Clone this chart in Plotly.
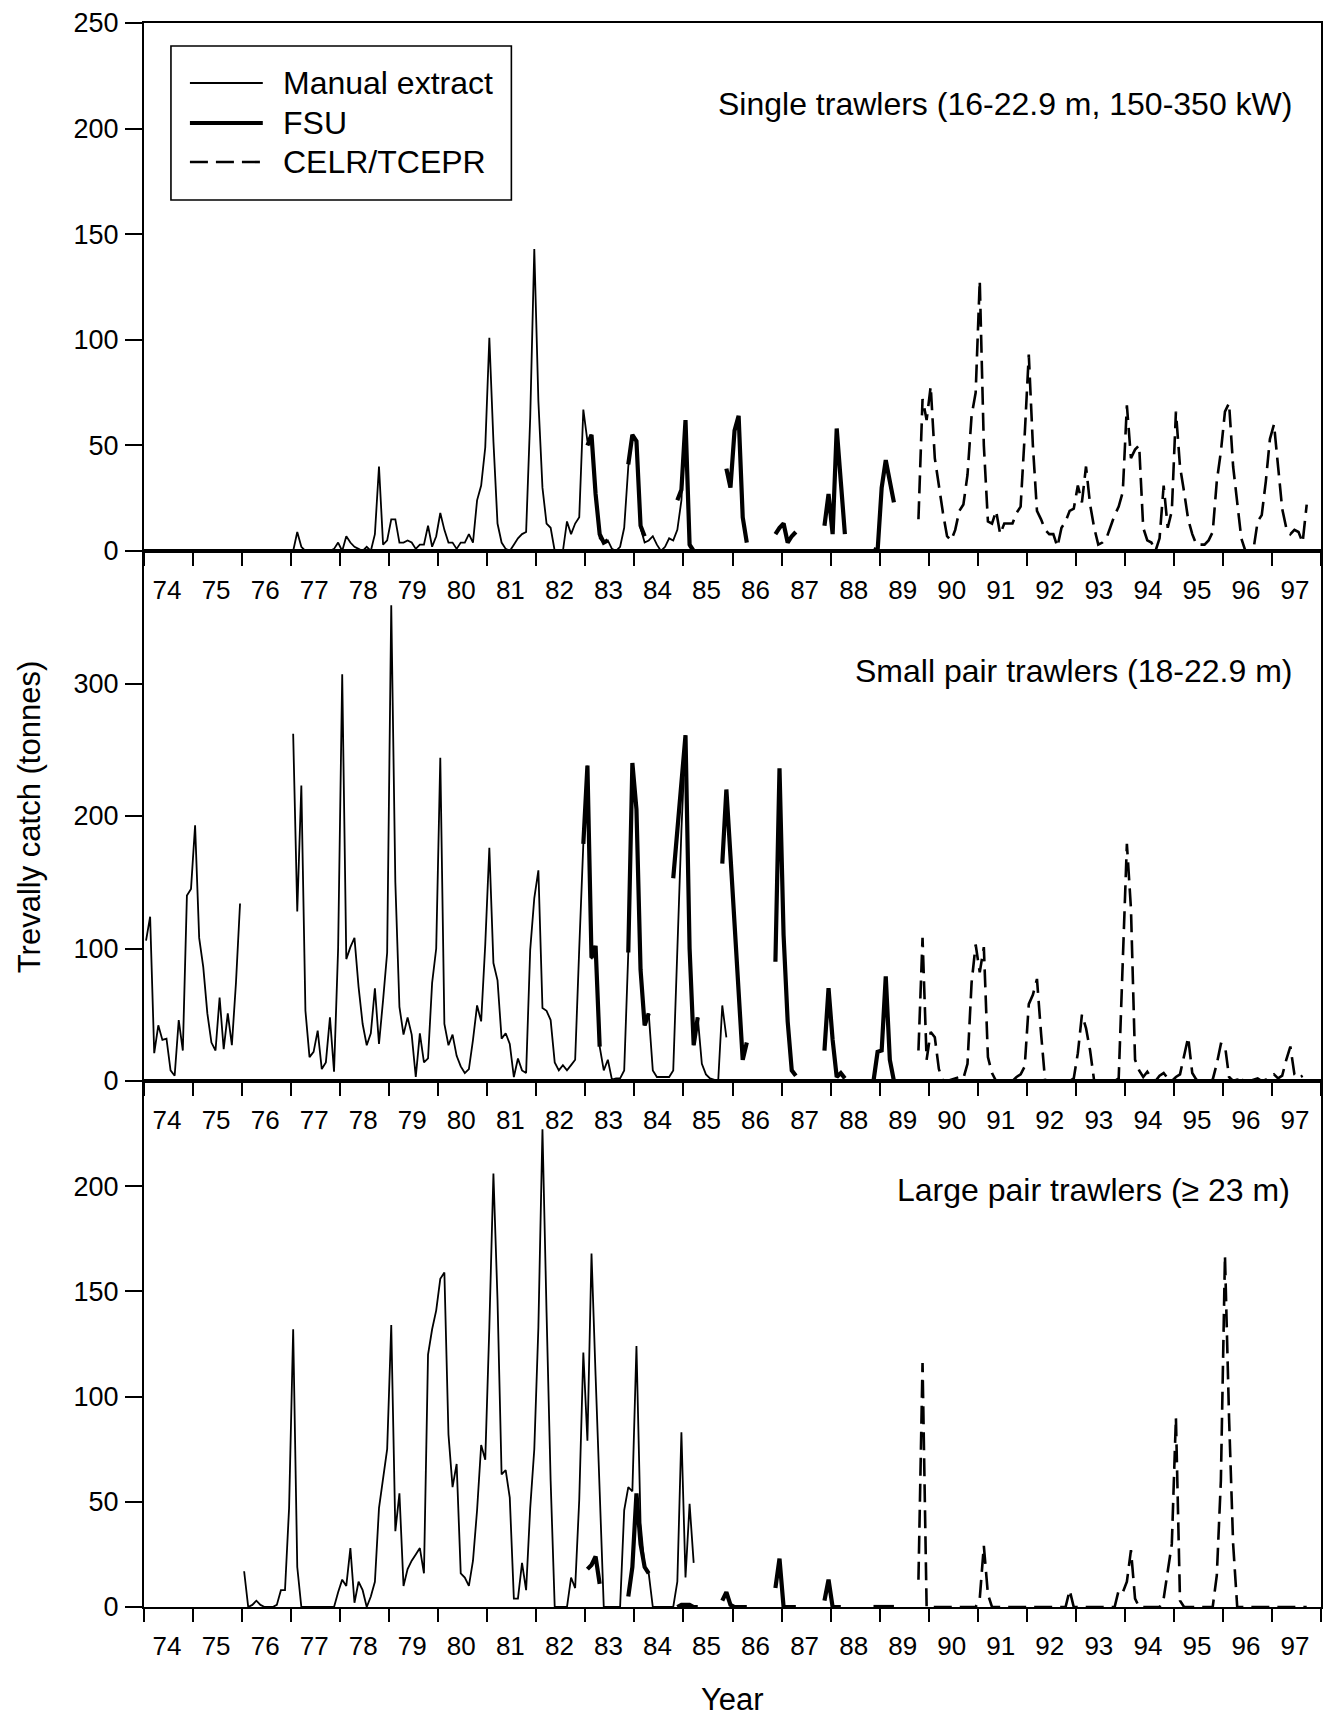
import plotly.graph_objects as go

# ---------------- data (monthly catches, tonnes; month index k: 0 = Jan 1974) ----------------
YEAR_START = 74
YEAR_LABELS = [str(y) for y in range(74, 98)]

# Single trawlers
TOP_MANUAL_START = 0
TOP_MANUAL = [0, 0, 0, 0, 0, 0, 0, 0, 0, 0, 0, 0,
              0, 0, 0, 0, 0, 0, 0, 0, 0, 0, 0, 0,
              0, 0, 0, 0, 0, 0, 0, 0, 0, 0, 0, 0,
              0, 9, 2, 0, 0, 0, 0, 0, 0, 0, 1, 4,
              0, 7, 4, 2, 1, 0, 2, 0, 8, 40, 3, 5,
              15, 15, 4, 4, 5, 4, 1, 3, 3, 12, 2, 7,
              18, 10, 4, 4, 1, 4, 4, 8, 4, 24, 31, 49,
              101, 52, 13, 4, 1, 0, 3, 6, 8, 9, 63, 143,
              71, 30, 13, 11, 0, 0, 0, 14, 8, 13, 16, 67,
              52, 55, 27, 6, 4, 5, 1, 0, 2, 11, 40, 55,
              52, 11, 4, 5, 7, 3, 0, 2, 6, 5, 10, 24,
              62, 2, 0, 0, 0]
TOP_FSU = [(108, [50, 55, 27, 8, 4, 5]),
           (118, [41, 55, 52, 12, 7]),
           (130, [24, 29, 62, 3, 0, 0, 0]),
           (142, [39, 30, 57, 64, 16, 4]),
           (154, [8, 11, 13, 4, 7, 9]),
           (166, [12, 27, 8, 58, 33, 8]),
           (178, [1, 0, 30, 43, 33, 23])]
TOP_CELR_START = 189
TOP_CELR = [15, 72, 62, 78, 44, 30, 18, 7, 5, 10,
            19, 22, 36, 64, 75, 128, 50, 14, 13, 19,
            8, 13, 13, 13, 18, 21, 55, 93, 50, 19,
            15, 10, 8, 8, 2, 11, 14, 19, 20, 31,
            23, 40, 22, 11, 3, 4, 6, 12, 17, 21,
            28, 69, 44, 48, 50, 11, 5, 4, 0, 6,
            31, 11, 19, 66, 40, 28, 15, 8, 3, 3,
            3, 5, 9, 33, 47, 66, 70, 40, 22, 6,
            0, 0, 1, 14, 17, 33, 53, 60, 40, 20,
            11, 8, 10, 9, 4, 22]

# Small pair trawlers
MID_MANUAL_START = 0
MID_MANUAL = [106, 124, 21, 42, 31, 32, 8, 4, 46, 23, 140, 145,
              193, 108, 86, 51, 29, 23, 63, 24, 51, 27, 74, 134,
              None, None, None, None, None, None, None, None, None, None, None, None,
              262, 128, 223, 53, 18, 22, 38, 9, 14, 48,
              7, 100, 307, 92, 101, 108, 71, 43, 27, 36,
              70, 28, 61, 97, 359, 150, 56, 35, 48, 35,
              3, 36, 14, 17, 74, 100, 244, 43, 27, 35,
              19, 11, 6, 9, 31, 57, 45, 103, 176, 89,
              76, 32, 36, 28, 3, 17, 8, 6, 99, 138,
              159, 55, 53, 46, 14, 8, 12, 8, 12, 16,
              100, 179, 238, 92, 101, 26, 8, 16, 1, 2,
              2, 8, 97, 240, 205, 84, 42, 51, 8, 3,
              3, 3, 3, 8, 99, 189, 261, 100, 27, 48,
              13, 5, 2, 1, 0, 57, 33]
MID_FSU = [(107, [179, 238, 93, 102, 26]),
           (118, [97, 240, 205, 84, 42, 51]),
           (129, [153, 190, 226, 261, 100, 27, 48]),
           (141, [164, 220, 170, 120, 65, 16, 29]),
           (154, [90, 236, 110, 45, 8, 4]),
           (166, [23, 70, 31, 3, 6, 2]),
           (178, [0, 22, 23, 79, 16, 0])]
MID_CELR_START = 189
MID_CELR = [23, 108, 16, 37, 33, 9, 0, 0, 1, 2,
            3, 2, 13, 74, 103, 82, 101, 18, 6, 0,
            0, 0, 0, 0, 3, 5, 11, 58, 65, 77,
            36, 0, 0, 0, 0, 0, 0, 0, 2, 21,
            50, 40, 23, 0, 0, 0, 0, 0, 0, 2,
            94, 179, 130, 16, 8, 3, 7, 2, 0, 4,
            6, 2, 0, 3, 5, 18, 33, 6, 1, 0,
            2, 0, 1, 13, 28, 27, 3, 0, 1, 0,
            2, 0, 1, 2, 0, 1, 3, 5, 2, 4,
            16, 26, 5, 2, 4]

# Large pair trawlers
BOT_MANUAL_START = 24
BOT_MANUAL = [17, 0, 1, 3, 1, 0, 0, 0, 1, 8, 8, 47, 132, 19, 0,
              0, 0, 0, 0, 0, 0, 0,
              0, 7, 13, 10, 28, 2, 12, 8, 0, 5,
              12, 47, 60, 75, 134, 36, 54, 10, 18, 22,
              25, 28, 16, 120, 132, 141, 156, 159, 82, 57,
              68, 16, 14, 10, 22, 46, 77, 70, 133, 206,
              146, 63, 65, 52, 4, 4, 21, 8, 47, 75,
              133, 227, 140, 60, 0, 0, 0, 0, 14, 9,
              51, 121, 79, 168, 110, 50, 0, 0, 0, 0,
              0, 46, 57, 55, 124, 40, 19, 16, 0, 0,
              0, 0, 0, 0, 12, 83, 14, 49, 21]
BOT_FSU = [(108, [18, 20, 24, 11]),
           (118, [5, 19, 54, 30, 19, 16]),
           (130, [0, 1, 1, 1, 0, 0]),
           (141, [3, 7, 1, 0, 0, 0, 0]),
           (154, [9, 23, 0, 0, 0, 0]),
           (166, [3, 13, 0, 0, 0]),
           (178, [0, 0, 0, 0, 0, 0])]
BOT_CELR_START = 189
BOT_CELR = [13, 116, 0,
            0, 0, 0, 0, 0, 0, 0, 0, 0, 0, 0, 0,
            4, 29, 6, 0,
            0, 0, 0, 0, 0, 0, 0, 0, 0, 0, 0, 0, 0, 0, 0, 0, 0, 0,
            8, 0,
            0, 0, 0, 0, 0, 0, 0, 0, 0, 0,
            8, 7, 12, 27, 4, 0,
            0, 0, 0, 0, 0,
            4, 17, 30, 90, 3, 0,
            0, 0, 0, 0, 0, 0, 0,
            15, 60, 167, 90, 30, 0,
            0, 0, 0, 0, 0, 0, 0, 0, 0, 0, 0, 0, 0, 0, 0, 0, 0]

PANEL_TITLES = ["Single trawlers (16-22.9 m, 150-350 kW)",
                "Small pair trawlers (18-22.9 m)",
                "Large pair trawlers (\u2265 23 m)"]
LEGEND_NAMES = ["Manual extract", "FSU", "CELR/TCEPR"]

# ---------------- helpers ----------------
def month_x(k):
    return YEAR_START + (k + 0.5) / 12.0

def series_xy(start, values):
    xs = [month_x(start + i) for i in range(len(values))]
    return xs, list(values)

def segments_xy(segs):
    xs, ys = [], []
    for start, vals in segs:
        sx, sy = series_xy(start, vals)
        xs += sx + [None]
        ys += sy + [None]
    return xs, ys

FONT = "Liberation Sans, Arial, Helvetica, sans-serif"
W, H = 1325, 1717
ML, MR, MT, MB = 144, 2, 23, 110
PW, PH = W - ML - MR, H - MT - MB

def px(xp):
    return (xp - ML) / PW

def py(yp):
    return (H - MB - yp) / PH

THIN = dict(color="black", width=1.8)
THICK = dict(color="black", width=4.2)
DASH = dict(color="black", width=2.6, dash="18px,8px")

fig = go.Figure()

panels = [
    ("x", "y", (TOP_MANUAL_START, TOP_MANUAL), TOP_FSU, (TOP_CELR_START, TOP_CELR)),
    ("x2", "y2", (MID_MANUAL_START, MID_MANUAL), MID_FSU, (MID_CELR_START, MID_CELR)),
    ("x3", "y3", (BOT_MANUAL_START, BOT_MANUAL), BOT_FSU, (BOT_CELR_START, BOT_CELR)),
]
for xa, ya, man, fsu, celr in panels:
    mx, my = series_xy(*man)
    fig.add_trace(go.Scatter(x=mx, y=my, mode="lines", line=THIN, xaxis=xa, yaxis=ya,
                             showlegend=False, connectgaps=False, hoverinfo="skip"))
    fx, fy = segments_xy(fsu)
    fig.add_trace(go.Scatter(x=fx, y=fy, mode="lines", line=THICK, xaxis=xa, yaxis=ya,
                             showlegend=False, connectgaps=False, hoverinfo="skip"))
    cx, cy = series_xy(*celr)
    fig.add_trace(go.Scatter(x=cx, y=cy, mode="lines", line=DASH, xaxis=xa, yaxis=ya,
                             showlegend=False, connectgaps=False, hoverinfo="skip"))

b1 = py(1081)   # middle / bottom boundary
b2 = py(551)    # top / middle boundary

def xaxis_cfg(anchor):
    return dict(
        domain=[0, 1], anchor=anchor, range=[74, 98], showgrid=False, zeroline=False,
        showline=True, linecolor="black", linewidth=2, mirror=True,
        tickmode="array", tickvals=[y + 0.47 for y in range(74, 98)], ticktext=YEAR_LABELS,
        ticks="outside", ticklen=15, tickcolor="rgba(0,0,0,0)",
        tickfont=dict(family=FONT, size=26, color="black"),
        minor=dict(tickmode="array", tickvals=list(range(74, 99)), ticks="outside",
                   ticklen=13, tickwidth=2, tickcolor="black", showgrid=False),
        fixedrange=True,
    )

def yaxis_cfg(domain, rng, tv, anchor):
    return dict(
        domain=domain, anchor=anchor, range=rng, tickmode="array", tickvals=tv,
        showgrid=False, zeroline=False, showline=True, linecolor="black", linewidth=2,
        mirror=True, ticks="outside", ticklen=17, tickwidth=2, tickcolor="black",
        ticklabelstandoff=1,
        tickfont=dict(family=FONT, size=27, color="black"), fixedrange=True,
    )

fig.update_layout(
    width=W, height=H,
    margin=dict(l=ML, r=MR, t=MT, b=MB, pad=0),
    paper_bgcolor="white", plot_bgcolor="white",
    showlegend=False,
    font=dict(family=FONT, color="black"),
    xaxis=xaxis_cfg("y"),
    xaxis2=xaxis_cfg("y2"),
    xaxis3=xaxis_cfg("y3"),
    yaxis=yaxis_cfg([b2, 1], [0, 250], [0, 50, 100, 150, 200, 250], "x"),
    yaxis2=yaxis_cfg([b1, b2], [0, 400], [0, 100, 200, 300], "x2"),
    yaxis3=yaxis_cfg([0, b1], [0, 250], [0, 50, 100, 150, 200], "x3"),
)

annotations = []
# panel titles
for title, xr, yc in zip(PANEL_TITLES, [1296, 1296, 1294], [104, 671, 1190]):
    annotations.append(dict(text=title, xref="paper", yref="paper", x=px(xr), y=py(yc),
                            xanchor="right", yanchor="middle", showarrow=False,
                            font=dict(family=FONT, size=32, color="black")))
# axis titles
annotations.append(dict(text="Trevally catch (tonnes)", xref="paper", yref="paper",
                        x=px(29), y=py(817), textangle=-90, xanchor="center", yanchor="middle",
                        showarrow=False, font=dict(family=FONT, size=31, color="black")))
annotations.append(dict(text="Year", xref="paper", yref="paper", x=px(733), y=py(1700),
                        xanchor="center", yanchor="middle", showarrow=False,
                        font=dict(family=FONT, size=31, color="black")))
# legend text
for name, yc in zip(LEGEND_NAMES, [83, 123, 162]):
    annotations.append(dict(text=name, xref="paper", yref="paper", x=px(281), y=py(yc),
                            xanchor="left", yanchor="middle", showarrow=False,
                            font=dict(family=FONT, size=32, color="black")))
fig.update_layout(annotations=annotations)

shapes = [dict(type="rect", xref="paper", yref="paper", x0=px(171), x1=px(512),
               y0=py(200), y1=py(46), line=dict(color="black", width=1.6),
               fillcolor="white", layer="above")]
for style, yc in zip([THIN, THICK, DASH], [83, 123, 162]):
    shapes.append(dict(type="line", xref="paper", yref="paper", x0=px(190), x1=px(263),
                       y0=py(yc), y1=py(yc), line=style, layer="above"))
fig.update_layout(shapes=shapes)

fig.write_html("out.html")
